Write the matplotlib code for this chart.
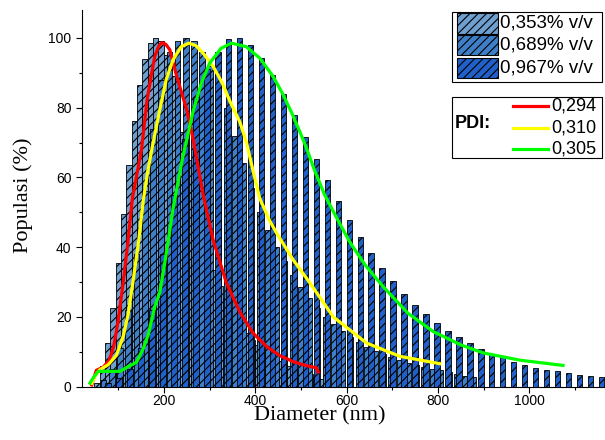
import numpy as np
import matplotlib
matplotlib.use('Agg')
import matplotlib.pyplot as plt
from matplotlib.patches import Rectangle
from matplotlib.lines import Line2D
from matplotlib.ticker import MultipleLocator

plt.rcParams['font.family'] = ['Liberation Sans', 'DejaVu Sans']
plt.rcParams['hatch.linewidth'] = 0.8

# --- data ---
labels_conc = ['0,353% v/v', '0,689% v/v', '0,967% v/v']
labels_pdi = ['0,294', '0,310', '0,305']

# 0,353% v/v  (bins ~11.7 nm)
s1_x = np.arange(53.6, 546, 11.7)
s1_y = [1.0, 5.8, 12.6, 22.7, 35.5, 49.6, 63.6, 76.2, 86.5, 94.0, 98.5, 100, 99,
        95, 89, 81, 73, 65, 57, 50, 44, 38.5, 33.5, 29, 25.5, 22.5, 19.8, 17.4,
        15.3, 13.5, 12, 10.6, 9.4, 8.4, 7.5, 6.7, 6.0, 5.3, 4.7, 4.1, 3.5, 2.9, 2.3]

# 0,689% v/v  (bins ~18 nm)
s2_x = np.arange(68, 880, 18)
s2_y = [2, 5, 11, 22, 38, 56, 74, 88, 96, 99, 100, 99, 96, 92, 87, 80, 72, 64, 57,
        50, 45, 40, 36, 32, 28.5, 25.5, 22.5, 20, 18, 16, 14.3, 12.8, 11.5, 10.3,
        9.3, 8.4, 7.6, 6.9, 6.3, 5.7, 5.2, 4.7, 4.2, 3.7, 3.2, 2.7]

# 0,967% v/v  (bins ~24 nm)
s3_x = np.arange(78, 1160, 24)
s3_y = [1, 2.5, 5, 11, 22, 38, 55, 71, 83, 91, 96, 99.7, 99.9, 98, 94.2, 89.4,
        83.9, 77.9, 71.7, 65.2, 59.3, 53.1, 47.9, 42.8, 38.3, 34, 30.2, 26.6,
        23.5, 20.8, 18.2, 16, 14.2, 12.5, 10.8, 9.4, 8.4, 7.2, 6.1, 5.3, 4.9,
        4.4, 3.9, 3.4, 3.2, 2.8]

# fitted curves
red_x = [42, 52, 67, 80, 90, 100, 111, 120, 131, 151, 163, 172, 180, 188, 195,
         204, 213, 228, 250, 264, 286, 308, 337, 366, 395, 425, 454, 483, 510,
         534, 538]
red_y = [0.5, 4.7, 5.6, 7.5, 11.5, 19, 30, 40, 54, 68, 82, 89, 94.6, 97.5, 98.6,
         98.2, 96.6, 89, 79.4, 71, 55, 42, 29.7, 21.5, 15.4, 11.5, 8.9, 7.2, 6.1,
         5.4, 4.2]

yel_x = [42, 49, 60, 78, 96, 111, 122, 133, 145, 155, 165, 175, 191, 205, 220,
         238, 255, 270, 286, 308, 328, 344, 366, 381, 395, 410, 430, 447, 483,
         520, 571, 644, 717, 804]
yel_y = [1, 3, 4.9, 6.3, 9, 14.5, 21, 30.7, 42, 53.6, 62, 69, 79.4, 88, 93.7,
         97.5, 98.5, 97.8, 95.6, 91.8, 87, 82, 76, 70, 62, 54, 48, 44, 36.4, 29.7,
         20, 12.5, 8.7, 6.6]

grn_x = [38, 45, 56, 80, 104, 118, 140, 155, 166, 180, 191, 205, 220, 240, 264,
         282, 300, 325, 348, 380, 410, 439, 460, 480, 498, 512, 530, 552, 580,
         607, 640, 680, 735, 790, 850, 899, 980, 1074]
grn_y = [1, 2.5, 4.4, 4.4, 4.4, 5.5, 7, 11, 15, 23, 27, 38, 51, 65, 79, 87, 92.7,
         97, 98.5, 97.5, 94.2, 89, 84, 78.5, 73, 68.5, 62, 55, 48, 41.5, 35,
         28.7, 21, 15.8, 12, 9.7, 7.6, 6.1]

bar_colors = ['#6f9fcf', '#3f7fc8', '#2060c8']
line_colors = ['#ff0000', '#ffff00', '#00ff00']

W, H = 605, 440
fig = plt.figure(figsize=(W / 100, H / 100), dpi=100)
ax = fig.add_axes([81.7 / W, 1 - 386.7 / H, (W - 81.7) / W, (386.7 - 10) / H])

ax.bar(s1_x, s1_y, width=11.7, color=bar_colors[0], edgecolor='black',
       linewidth=0.6, hatch='////', zorder=1)
ax.bar(s2_x, s2_y, width=12.3, color=bar_colors[1], edgecolor='black',
       linewidth=0.6, hatch='////', zorder=2)
ax.bar(s3_x, s3_y, width=12.0, color=bar_colors[2], edgecolor='black',
       linewidth=0.6, hatch='////', zorder=3)

for xs, ys, c in [(red_x, red_y, line_colors[0]), (yel_x, yel_y, line_colors[1]),
                  (grn_x, grn_y, line_colors[2])]:
    ax.plot(xs, ys, color=c, lw=2.3, zorder=5, solid_joinstyle='round')

ax.set_xlim(20, 1166)
ax.set_ylim(0, 108)
ax.xaxis.set_major_locator(MultipleLocator(200))
ax.xaxis.set_minor_locator(MultipleLocator(100))
ax.yaxis.set_minor_locator(MultipleLocator(10))
ax.set_yticks([0, 20, 40, 60, 80, 100])
for s in ['top', 'right']:
    ax.spines[s].set_visible(False)
for s in ['left', 'bottom']:
    ax.spines[s].set_linewidth(0.8)
ax.tick_params(which='major', direction='out', length=4.3, width=0.8,
               labelsize=10, pad=3)
ax.tick_params(axis='x', which='major', pad=0.8)
ax.tick_params(which='minor', direction='out', length=2.4, width=0.8)

fig.text(320 / W, 1 - 416 / H, 'Diameter (nm)', ha='center', va='center',
         fontsize=16, family='Liberation Serif')
fig.text(23 / W, 1 - 195 / H, 'Populasi (%)', ha='center', va='center',
         rotation=90, fontsize=16, family='Liberation Serif')

# legend box for the bars
fig.patches.append(Rectangle((452.3 / W, 1 - 81.7 / H), 150 / W, 70 / H,
                             transform=fig.transFigure, facecolor='white',
                             edgecolor='black', lw=0.8, zorder=10))
rows = [23.3, 45, 68]
for yc, c, lab in zip(rows, bar_colors, labels_conc):
    fig.patches.append(Rectangle((456.7 / W, 1 - (yc + 10.3) / H), 41 / W, 20.6 / H,
                                 transform=fig.transFigure, facecolor=c,
                                 edgecolor='black', lw=0.8, hatch='////', zorder=11))
    fig.text(500 / W, 1 - yc / H, lab, ha='left', va='center', fontsize=13.5,
             zorder=12)

# legend box for the curves
fig.patches.append(Rectangle((452.3 / W, 1 - 158 / H), 150 / W, 61.3 / H,
                             transform=fig.transFigure, facecolor='white',
                             edgecolor='black', lw=0.8, zorder=10))
fig.text(455 / W, 1 - 123 / H, 'PDI:', ha='left', va='center', fontsize=13,
         fontweight='bold', zorder=12)
for yc, c, lab in zip([106, 127.7, 149.3], line_colors, labels_pdi):
    fig.lines.append(Line2D([513 / W, 548 / W], [1 - yc / H, 1 - yc / H],
                            transform=fig.transFigure, color=c, lw=2.3, zorder=11))
    fig.text(551 / W, 1 - yc / H, lab, ha='left', va='center', fontsize=13,
             zorder=12)

fig.savefig('out.png', dpi=100)
